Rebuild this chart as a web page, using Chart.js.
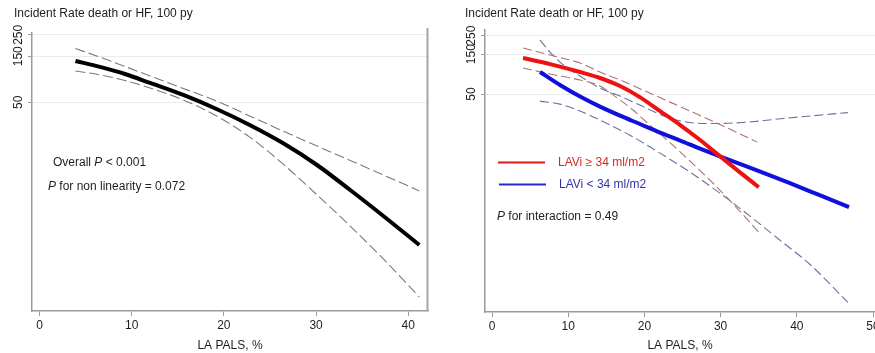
<!DOCTYPE html>
<html>
<head>
<meta charset="utf-8">
<script src="https://cdn.jsdelivr.net/npm/chart.js@4.4.1/dist/chart.umd.min.js"></script>
<style>
  html, body { margin: 0; padding: 0; overflow: hidden; background: #fff; width: 875px; height: 353px; }
  #c1 { position: absolute; left: 0; top: 0; }
  #c2 { position: absolute; left: 437px; top: 0; }
</style>
</head>
<body>
<canvas id="c1" width="437" height="353"></canvas>
<canvas id="c2" width="450" height="353"></canvas>
<script>
// ---- data ----
const yTicks = [50, 150, 250]
const xTicksLeft = [0, 10, 20, 30, 40]
const xTicksRight = [0, 10, 20, 30, 40, 50]

// left panel: overall spline
const leftX = [3.9, 6.56, 9.27, 12.0, 15.6, 19.2, 22.8, 26.4, 30.1, 33.7, 37.3, 41.2]
const leftFit = [134, 116.2, 98.2, 79.2, 59.5, 42.6, 29.1, 18.9, 11.2, 6.17, 3.32, 1.66]
const leftUpper = [180, 147, 117.5, 93.7, 69.5, 51.6, 36.1, 25.2, 17.6, 12.5, 8.83, 6.03]
const leftLower = [105.5, 96.1, 84.1, 70.3, 52.8, 36.1, 21.8, 11.5, 5.48, 2.61, 1.19, 0.48]

// right panel: LAVi >= 34 (red)
const redX = [4.07, 7.61, 11.55, 14.17, 16.8, 19.4, 22.05, 24.7, 27.3, 29.9, 32.5, 35.0]
const redFit = [135, 114, 91.7, 77.8, 62.4, 46, 31.3, 21.3, 14.1, 9.04, 5.82, 3.84]
const redUpperX = [4.07, 7.61, 11.55, 14.17, 17.45, 20.7, 25.1, 29.5, 34.8]
const redUpper = [178, 146.5, 117.5, 91.7, 69.6, 51.4, 34, 22.5, 13.3]
const redLowerX = [4.07, 7.61, 11.55, 14.17, 16.1, 18.5, 20.7, 22.97, 25.98, 28.6, 31.9, 35.0]
const redLower = [102.4, 86.9, 73.6, 62.4, 47.3, 32.2, 21.3, 14.1, 7.89, 4.67, 2.28, 1.11]

// right panel: LAVi < 34 (blue)
const blueX = [6.3, 8.92, 11.55, 14.17, 16.8, 19.4, 22.05, 24.7, 27.3, 31.2, 35.2, 39.1, 43.0, 46.85]
const blueFit = [91.7, 64.1, 46.7, 35.4, 27.6, 21.9, 17.3, 13.9, 11.1, 8.1, 5.9, 4.29, 3.08, 2.22]
const blueUpperX = [6.3, 7.61, 8.92, 11.55, 14.17, 16.8, 19.4, 22.97, 25.98, 28.6, 31.6, 35.2, 38.2, 41.7, 46.7]
const blueUpper = [221.5, 159, 120.7, 82.2, 59, 47.3, 36.9, 26.5, 22.8, 22.2, 22.5, 23.8, 25.5, 27.3, 30]
const blueLowerX = [6.3, 8.92, 11.55, 14.17, 18.1, 22.05, 25.98, 29.9, 33.86, 37.8, 41.7, 46.7]
const blueLower = [41.2, 37.9, 31.3, 24.4, 16.1, 9.82, 5.82, 3.26, 1.73, 0.89, 0.46, 0.161]

const FONT = '"Liberation Sans", Arial, sans-serif'
const TEXT = '#1e1e1e'
const AXIS = '#9a9a9a'

function pts(xs, ys) {
    return xs.map((x, i) => ({x: x, y: ys[i]}))
}

function line(xs, ys, color, width, dash) {
    return {
        data: pts(xs, ys),
        borderColor: color,
        borderWidth: width,
        borderDash: dash || [],
        pointRadius: 0,
        fill: false,
        cubicInterpolationMode: 'monotone',
        borderCapStyle: 'butt'
    }
}

// draws one line of text where some pieces are italic
function runs(ctx, parts, x, y, color) {
    ctx.fillStyle = color
    ctx.textBaseline = 'middle'
    ctx.textAlign = 'left'
    parts.forEach(function (p) {
        ctx.font = (p[1] ? 'italic ' : '') + '12px ' + FONT
        ctx.fillText(p[0], x, y)
        x += ctx.measureText(p[0]).width
    })
}

const decor = {
    id: 'decor',
    afterDraw(chart) {
        const ctx = chart.ctx
        const o = chart.options.plugins.decor
        const ys = chart.scales.y
        ctx.save()
        // rotated y tick labels
        ctx.fillStyle = TEXT
        ctx.font = '12px ' + FONT
        ctx.textAlign = 'center'
        ctx.textBaseline = 'middle'
        ys.ticks.forEach(function (t) {
            const py = ys.getPixelForValue(t.value)
            ctx.save()
            ctx.translate(ys.right - 13.5, py)
            ctx.rotate(-Math.PI / 2)
            ctx.fillText(String(t.value), 0, 0)
            ctx.restore()
        })
        // plot frame on the right for the left panel
        if (o.frameRight) {
            const a = chart.chartArea
            ctx.strokeStyle = '#a6a6a6'
            ctx.lineWidth = 2
            ctx.beginPath()
            ctx.moveTo(a.right - 0.5, a.top - 5)
            ctx.lineTo(a.right - 0.5, a.bottom)
            ctx.stroke()
        }
        // title
        runs(ctx, [['Incident Rate death or HF, 100 py', false]], o.titleX, 14, TEXT);
        // legend entries
        (o.legend || []).forEach(function (l) {
            ctx.strokeStyle = l.line
            ctx.lineWidth = 2
            ctx.setLineDash([])
            ctx.beginPath()
            ctx.moveTo(l.x, l.y)
            ctx.lineTo(l.x + 47, l.y)
            ctx.stroke()
            runs(ctx, [[l.text, false]], l.x + 60, l.y, l.color)
        })
        // annotations
        o.notes.forEach(function (n) {
            runs(ctx, n.parts, n.x, n.y, TEXT)
        })
        ctx.restore()
    }
}

function panel(id, cfg) {
    return new Chart(document.getElementById(id), {
        type: 'line',
        data: {datasets: cfg.datasets},
        options: {
            responsive: false,
            animation: false,
            events: [],
            layout: {padding: {top: cfg.top, right: cfg.padRight, left: 0, bottom: 0}},
            plugins: {
                legend: {display: false},
                tooltip: {enabled: false},
                decor: cfg.decor
            },
            scales: {
                x: {
                    type: 'linear',
                    bounds: 'data',
                    min: cfg.xMin,
                    max: cfg.xMax,
                    afterBuildTicks: function (s) { s.ticks = cfg.xTicks.map(v => ({value: v})) },
                    afterFit: function (s) { s.height = 353 - cfg.bottom },
                    grid: {drawOnChartArea: false, tickLength: 5, tickColor: AXIS, tickWidth: 1},
                    border: {color: AXIS, width: 1.5},
                    ticks: {color: TEXT, font: {family: FONT, size: 12}, padding: 2, maxRotation: 0, autoSkip: false},
                    title: {display: true, text: 'LA PALS, %', color: TEXT, font: {family: FONT, size: 12}, padding: {top: 0, bottom: 0}}
                },
                y: {
                    type: 'logarithmic',
                    bounds: 'data',
                    min: cfg.yMin,
                    max: cfg.yMax,
                    afterBuildTicks: function (s) { s.ticks = yTicks.map(v => ({value: v})) },
                    afterFit: function (s) { s.width = cfg.left },
                    grid: {color: '#ebebeb', lineWidth: 1, tickLength: 4, tickColor: AXIS},
                    border: {color: AXIS, width: 1.5},
                    ticks: {display: false}
                }
            }
        },
        plugins: [decor]
    })
}

panel('c1', {
    left: 32, top: 33, bottom: 311, padRight: 9,
    xMin: -0.81, xMax: 42.14, yMin: 0.344, yMax: 261,
    xTicks: xTicksLeft,
    datasets: [
        line(leftX, leftFit, '#000000', 4),
        line(leftX, leftUpper, '#7a7a7a', 1.1, [10, 4]),
        line(leftX, leftLower, '#7a7a7a', 1.1, [10, 4])
    ],
    decor: {
        frameRight: true,
        titleX: 14,
        notes: [
            {x: 53, y: 163, parts: [['Overall ', false], ['P', true], [' < 0.001', false]]},
            {x: 48, y: 187, parts: [['P', true], [' for non linearity = 0.072', false]]}
        ]
    }
})

panel('c2', {
    left: 48, top: 30, bottom: 312, padRight: 12,
    xMin: -0.92, xMax: 50.26, yMin: 0.1234, yMax: 292,
    xTicks: xTicksRight,
    datasets: [
        line(redX, redFit, '#ee1111', 4),
        line(blueX, blueFit, '#1010dd', 4),
        line(redUpperX, redUpper, '#ad7373', 1.1, [9, 4]),
        line(redLowerX, redLower, '#ad7373', 1.1, [9, 4]),
        line(blueUpperX, blueUpper, '#6e6e9e', 1.1, [9, 4]),
        line(blueLowerX, blueLower, '#6e6e9e', 1.1, [9, 4])
    ],
    decor: {
        frameRight: false,
        titleX: 28,
        legend: [
            {x: 61, y: 162.5, line: '#e01818', color: '#d42a2a', text: 'LAVi \u2265 34 ml/m2'},
            {x: 62, y: 184.5, line: '#2a2acc', color: '#3434aa', text: 'LAVi < 34 ml/m2'}
        ],
        notes: [
            {x: 60, y: 217, parts: [['P', true], [' for interaction = 0.49', false]]}
        ]
    }
})
</script>
</body>
</html>
